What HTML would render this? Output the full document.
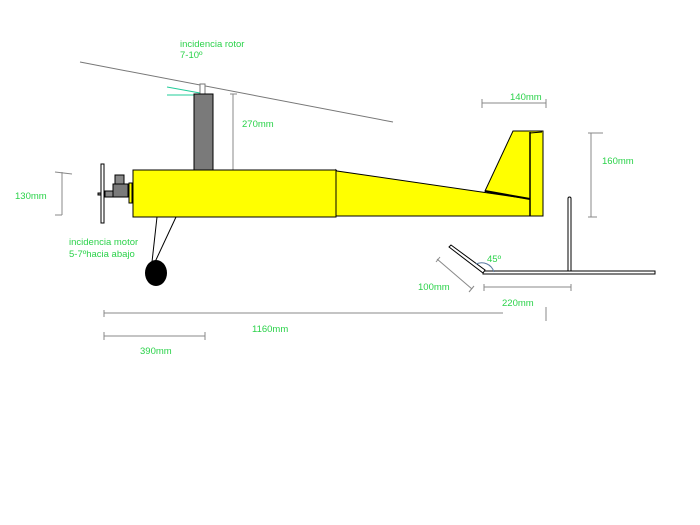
<!DOCTYPE html>
<html><head><style>body{margin:0;background:#fff}svg{display:block}text{font-family:"Liberation Sans",sans-serif;font-size:9.5px;fill:#2bd24a}</style></head><body>
<svg width="700" height="525" viewBox="0 0 700 525" xmlns="http://www.w3.org/2000/svg">
<line x1="80" y1="62" x2="393" y2="122" stroke="#777" stroke-width="1"/>
<rect x="200" y="84" width="5" height="10" fill="#fff" stroke="#777"/>
<line x1="167" y1="87" x2="200" y2="93" stroke="#2c9" stroke-width="1"/>
<line x1="167" y1="95" x2="200" y2="95" stroke="#2c9" stroke-width="1"/>
<rect x="194" y="94" width="19" height="76" fill="#7a7a7a" stroke="#000"/>
<line x1="233" y1="94" x2="233" y2="170" stroke="#888"/><line x1="230" y1="94" x2="237" y2="94" stroke="#888"/>
<polygon points="336,170 337,171 530,199 530,216 336,216" fill="#ffff00" stroke="#000"/>
<polygon points="485,191 513,131 543,131 543,216 530,216 530,199" fill="#ffff00" stroke="#000"/>
<line x1="485" y1="191" x2="530" y2="199" stroke="#000" stroke-width="2"/>
<line x1="530" y1="132" x2="530" y2="216" stroke="#000" stroke-width="1.5"/>
<line x1="530" y1="133" x2="542" y2="132" stroke="#000"/>
<rect x="133" y="170" width="203" height="47" fill="#ffff00" stroke="#000"/>
<rect x="129" y="183" width="3" height="20" fill="#ffff00" stroke="#000"/>
<rect x="115" y="175" width="9" height="9" fill="#888" stroke="#000"/>
<rect x="113" y="184" width="15" height="13" fill="#7a7a7a" stroke="#000"/>
<rect x="105" y="191" width="8" height="6" fill="#888" stroke="#000"/>
<rect x="98" y="193" width="7" height="2" fill="#888" stroke="#000"/>
<rect x="101" y="164" width="3" height="59" fill="#fff" stroke="#000"/>
<line x1="157" y1="217" x2="152" y2="262" stroke="#000"/><line x1="176" y1="217" x2="155" y2="262" stroke="#000"/>
<ellipse cx="156" cy="273" rx="11" ry="13" fill="#000"/>
<line x1="62" y1="172" x2="62" y2="215" stroke="#888"/><line x1="55" y1="172" x2="72" y2="174" stroke="#888"/><line x1="55" y1="215" x2="62" y2="215" stroke="#888"/>
<line x1="482" y1="103" x2="546" y2="103" stroke="#888"/><line x1="482" y1="99" x2="482" y2="108" stroke="#888"/><line x1="546" y1="99" x2="546" y2="108" stroke="#888"/>
<line x1="591" y1="133" x2="591" y2="217" stroke="#888"/><line x1="588" y1="133" x2="603" y2="133" stroke="#888"/><line x1="588" y1="217" x2="597" y2="217" stroke="#888"/>
<rect x="568" y="197" width="3" height="75" rx="1.5" fill="#fff" stroke="#000"/>
<rect x="483" y="271" width="172" height="3" fill="#fff" stroke="#000"/>
<polygon points="449,247 451,245 485,270 483,273" fill="#fff" stroke="#000"/>
<path d="M476 264 A13 13 0 0 1 494 272" fill="none" stroke="#5a7aa0"/>
<line x1="437" y1="259" x2="472" y2="289" stroke="#888"/><line x1="436" y1="262" x2="440" y2="257" stroke="#888"/><line x1="469" y1="292" x2="474" y2="286" stroke="#888"/>
<line x1="484" y1="287" x2="571" y2="287" stroke="#888"/><line x1="484" y1="284" x2="484" y2="291" stroke="#888"/><line x1="571" y1="284" x2="571" y2="291" stroke="#888"/>
<line x1="104" y1="313" x2="503" y2="313" stroke="#888"/><line x1="104" y1="310" x2="104" y2="317" stroke="#888"/><line x1="546" y1="307" x2="546" y2="321" stroke="#888"/>
<line x1="104" y1="336" x2="205" y2="336" stroke="#888"/><line x1="104" y1="332" x2="104" y2="340" stroke="#888"/><line x1="205" y1="332" x2="205" y2="340" stroke="#888"/>
<text x="180" y="47">incidencia rotor</text><text x="180" y="58">7-10º</text>
<text x="242" y="127">270mm</text>
<text x="69" y="245">incidencia motor</text><text x="69" y="257">5-7ºhacia abajo</text>
<text x="15" y="199">130mm</text>
<text x="510" y="100">140mm</text>
<text x="602" y="164">160mm</text>
<text x="487" y="262">45º</text>
<text x="418" y="290">100mm</text>
<text x="502" y="306">220mm</text>
<text x="252" y="332">1160mm</text>
<text x="140" y="354">390mm</text>
</svg></body></html>
